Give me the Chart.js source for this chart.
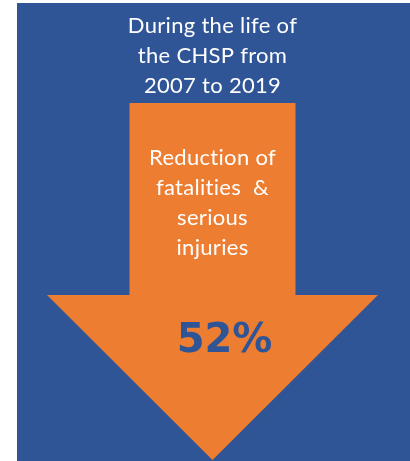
<!doctype html>
<html lang="en">
<head>
  <meta charset="utf-8">
  <title>CHSP reduction of fatalities & serious injuries</title>
  <script src="https://cdn.jsdelivr.net/npm/chart.js"></script>
  <style>
    html, body { margin: 0; padding: 0; background: #fff; }
    #wrap { position: absolute; left: 17px; top: 3px; width: 393px; height: 458px; }
  </style>
</head>
<body>
  <div id="wrap"><canvas id="chart"></canvas></div>
  <script>
    // data
    const headerLines = ['During the life of', 'the CHSP from', '2007 to 2019'];
    const arrowLines = ['Reduction of', 'fatalities  &', 'serious', 'injuries'];
    const reductionPct = [52];

    const BLUE = '#2F5597', ORANGE = '#ED7D31';

    // arrow geometry, in scale units (x 0..393, y 0..458 top-down)
    const cx = 195.5, shaftHalf = 83, headHalf = 165.5;
    const shaftTop = 100, headTop = 292, tip = 457;
    const arrow = [
      {x: cx - shaftHalf, y: shaftTop}, {x: cx + shaftHalf, y: shaftTop},
      {x: cx + shaftHalf, y: headTop}, {x: cx + headHalf, y: headTop},
      {x: cx, y: tip}, {x: cx - headHalf, y: headTop},
      {x: cx - shaftHalf, y: headTop}, {x: cx - shaftHalf, y: shaftTop}
    ];

    const textPlugin = {
      id: 'texts',
      beforeDraw(chart) {
        const c = chart.ctx;
        c.save();
        c.fillStyle = BLUE;
        c.fillRect(0, 0, chart.width, chart.height);
        c.restore();
      },
      afterDatasetsDraw(chart) {
        const c = chart.ctx, xs = chart.scales.x, ys = chart.scales.y;
        c.save();
        c.textAlign = 'center';
        c.textBaseline = 'middle';
        c.fillStyle = '#ffffff';
        c.font = '22px Lato';
        c.letterSpacing = '0.3px'; // also stops the "ti" ligature
        headerLines.forEach((t, i) => c.fillText(t, xs.getPixelForValue(cx), ys.getPixelForValue(23 + i * 30)));
        arrowLines.forEach((t, i) => c.fillText(t, xs.getPixelForValue(cx), ys.getPixelForValue(155 + i * 30)));
        c.letterSpacing = '0px';
        c.fillStyle = BLUE;
        c.font = 'bold 40px "DejaVu Sans"';
        c.fillText(reductionPct[0] + '%', xs.getPixelForValue(cx + 12), ys.getPixelForValue(339));
        c.restore();
      }
    };

    new Chart(document.getElementById('chart'), {
      type: 'scatter',
      data: {
        datasets: [{
          data: arrow,
          showLine: true,
          fill: 'shape',
          backgroundColor: ORANGE,
          borderColor: ORANGE,
          borderWidth: 0,
          pointRadius: 0,
          tension: 0
        }]
      },
      options: {
        responsive: true,
        maintainAspectRatio: false,
        animation: false,
        layout: { padding: 0 },
        plugins: { legend: { display: false }, tooltip: { enabled: false } },
        scales: {
          x: { type: 'linear', min: 0, max: 393, display: false },
          y: { type: 'linear', min: 0, max: 458, reverse: true, display: false }
        }
      },
      plugins: [textPlugin]
    });
  </script>
</body>
</html>
